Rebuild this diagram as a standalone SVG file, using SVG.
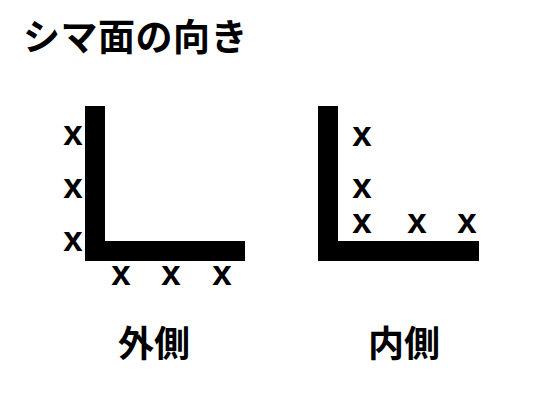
<svg xmlns="http://www.w3.org/2000/svg" width="560" height="409" viewBox="0 0 560 409">
<style>
.bar{fill:#000}
.m{font-family:"Liberation Sans",Arial,sans-serif;font-weight:bold;font-size:35px;text-anchor:middle;fill:#000}
.j{font-family:"Noto Sans CJK JP",sans-serif;font-weight:bold;font-size:36px;fill:#000}
.t{font-size:37px;letter-spacing:0.5px}
</style>
<rect width="560" height="409" fill="#fff"/>
<text class="j t" x="23" y="51">シマ面の向き</text>
<g id="outer">
<rect class="bar" x="85" y="106" width="20" height="155"/>
<rect class="bar" x="85" y="241" width="160" height="20"/>
<text class="m" x="73" y="145">x</text>
<text class="m" x="73" y="198">x</text>
<text class="m" x="73" y="251">x</text>
<text class="m" x="121" y="285">x</text>
<text class="m" x="171" y="285">x</text>
<text class="m" x="222" y="285">x</text>
<text class="j" x="118" y="357">外側</text>
</g>
<g id="inner">
<rect class="bar" x="318" y="106" width="20" height="155"/>
<rect class="bar" x="318" y="241" width="161" height="20"/>
<text class="m" x="362" y="146">x</text>
<text class="m" x="362" y="198">x</text>
<text class="m" x="362" y="233">x</text>
<text class="m" x="417" y="233">x</text>
<text class="m" x="467" y="233">x</text>
<text class="j" x="368" y="357">内側</text>
</g>
</svg>
